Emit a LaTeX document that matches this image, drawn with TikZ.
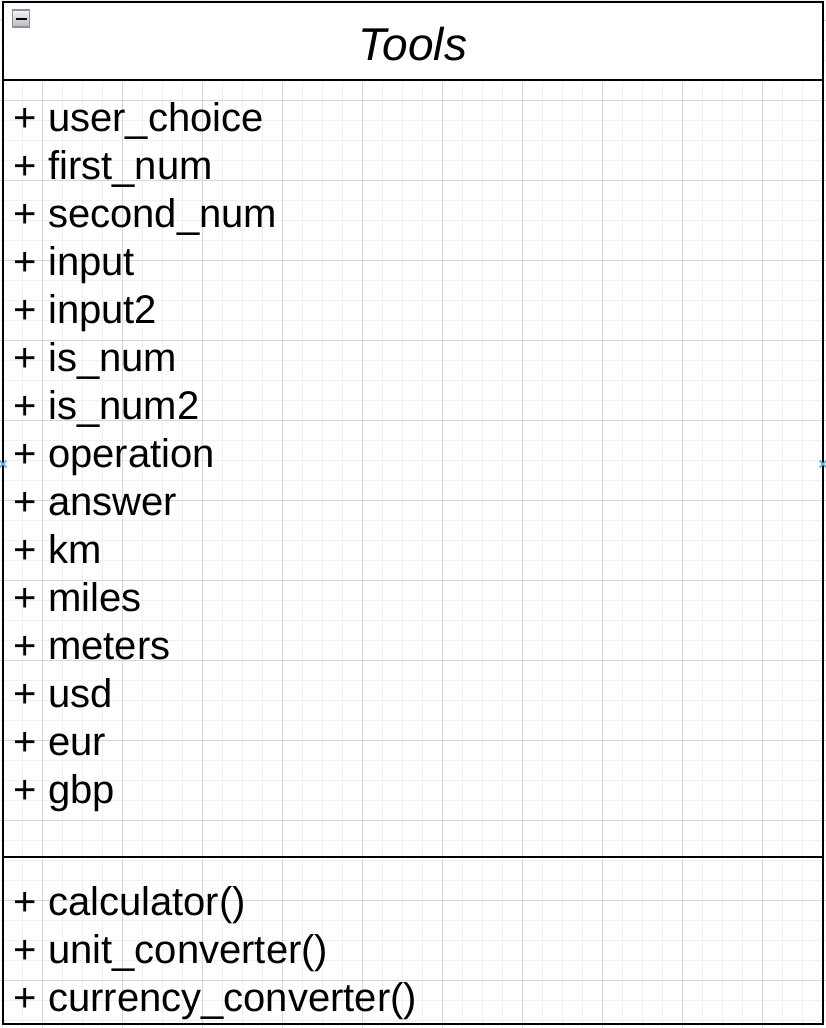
\documentclass[tikz,border=0pt]{standalone}
\usepackage{fontspec}
\setmainfont{Liberation Sans}
\definecolor{gridminor}{HTML}{F0F0F0}
\definecolor{gridmajor}{HTML}{D6D6D6}
\definecolor{markerblue}{HTML}{5AAEE6}
\definecolor{iconborder}{HTML}{8A90A0}
\begin{document}
\begin{tikzpicture}[x=1pt,y=-1pt,
  attr/.style={anchor=base west, inner sep=0pt, font=\fontsize{40}{48}\selectfont},
  titletext/.style={anchor=base, inner sep=0pt, font=\fontsize{46}{55}\selectfont\itshape},
  minorgrid/.style={draw=gridminor, line width=1pt},
  majorgrid/.style={draw=gridmajor, line width=1pt},
  boxline/.style={draw=black, line width=2pt},
  marker/.style={draw=markerblue, line width=1.6pt}]
\useasboundingbox (0,0) rectangle (826,1028);
\fill[white] (0,0) rectangle (826,1028);
% grid
\foreach \i in {0,...,41} \draw[minorgrid] ({2+20*\i},0) -- ({2+20*\i},1028);
\foreach \j in {0,...,51} \draw[minorgrid] (0,{20*\j}) -- (826,{20*\j});
\foreach \i in {0,...,9} \draw[majorgrid] ({42+80*\i},0) -- ({42+80*\i},1028);
\foreach \j in {0,...,12} \draw[majorgrid] (0,{20+80*\j}) -- (826,{20+80*\j});
% class box
\fill[white] (3,1.5) rectangle (823,80);
\draw[boxline] (3,1.5) rectangle (823,1023.5);
\draw[boxline] (3,80) -- (823,80);
\draw[boxline] (3,856.5) -- (823,856.5);
% collapse icon
\shade[top color=white!92!gray, bottom color=gray!55] (12.5,10) rectangle (29.5,27);
\draw[iconborder, line width=1.5pt] (12.5,10) rectangle (29.5,27);
\draw[black, line width=2.5pt] (15.5,19) -- (26.5,19);
% title
\node[titletext] (title) at (413,60) {Tools};
% attributes
\foreach \t [count=\k from 0] in {user\_choice, first\_num, second\_num, input, input2, is\_num, is\_num2, operation, answer, km, miles, meters, usd, eur, gbp}
  \node[attr] (a\k) at (13.5,{131+48*\k}) {+ \t};
% methods
\node[attr] (m0) at (13.5,915) {+ calculator()};
\node[attr] (m1) at (13.5,963) {+ unit\_converter()};
\node[attr] (m2) at (13.5,1011) {+ currency\_converter()};
% connection markers
\coordinate (pl) at (3,464);
\coordinate (pr) at (823,464);
\draw[marker] ([shift={(-3.5,-3.5)}]pl) -- ([shift={(3.5,3.5)}]pl) ([shift={(-3.5,3.5)}]pl) -- ([shift={(3.5,-3.5)}]pl);
\draw[marker] ([shift={(-3.5,-3.5)}]pr) -- ([shift={(3.5,3.5)}]pr) ([shift={(-3.5,3.5)}]pr) -- ([shift={(3.5,-3.5)}]pr);
\end{tikzpicture}
\end{document}
